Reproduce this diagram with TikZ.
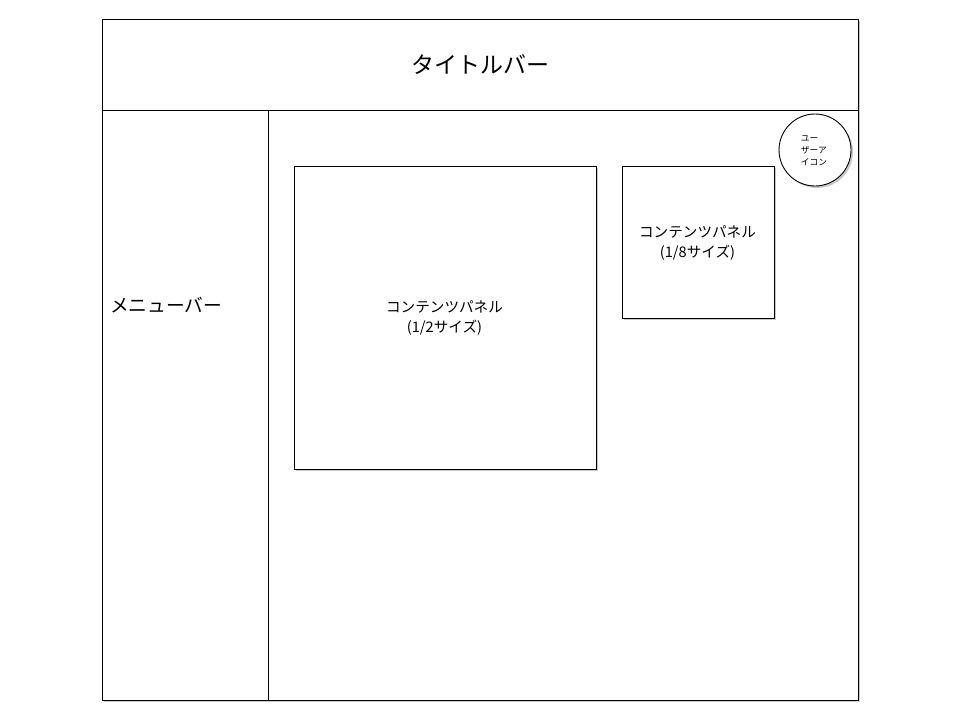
\documentclass[tikz,border=0pt]{standalone}
\usepackage{fontspec}
\setmainfont{Noto Sans CJK JP}
\usetikzlibrary{shadows}
\begin{document}
\begin{tikzpicture}[x=1pt,y=-1pt,
  box/.style={draw=black,line width=0.9pt,fill=white,
    drop shadow={shadow xshift=2pt,shadow yshift=-2pt,opacity=0.35,fill=black!60}},
  plain/.style={draw=black,line width=0.9pt},
  lbl/.style={inner sep=0pt,align=center}]
\useasboundingbox (0,0) rectangle (960,720);
\fill[white] (0,0) rectangle (960,720);
% outer frame
\node[box,minimum width=756pt,minimum height=681pt,anchor=north west,inner sep=0pt] (frame) at (102,19) {};
\coordinate (tl) at (102,110);
\coordinate (tr) at (858,110);
\draw[plain] (tl) -- (tr);
\coordinate (mt) at (268,110);
\coordinate (mb) at (268,700);
\draw[plain] (mt) -- (mb);
\node[lbl,font=\fontsize{23}{27}\selectfont] (title) at (480,65) {タイトルバー};
\node[lbl,font=\fontsize{18.7}{22}\selectfont,anchor=west] (menu) at (110,305) {メニューバー};
% panels
\node[box,minimum width=302pt,minimum height=303pt,anchor=north west,inner sep=0pt] (big) at (294,166) {};
\node[lbl,font=\fontsize{14.6}{20}\selectfont] (bigt) at (444.5,318) {コンテンツパネル\\(1/2サイズ)};
\node[box,minimum width=152pt,minimum height=152pt,anchor=north west,inner sep=0pt] (small) at (622,166) {};
\node[lbl,font=\fontsize{14.6}{20}\selectfont] (smallt) at (697.5,243) {コンテンツパネル\\(1/8サイズ)};
% user icon
\node[box,circle,minimum size=72pt,inner sep=0pt] (user) at (815,150) {};
\node[inner sep=0pt,align=left,font=\fontsize{8.7}{12}\selectfont] (usert) at (814,151) {ユー\\ザーア\\イコン};
\end{tikzpicture}
\end{document}
